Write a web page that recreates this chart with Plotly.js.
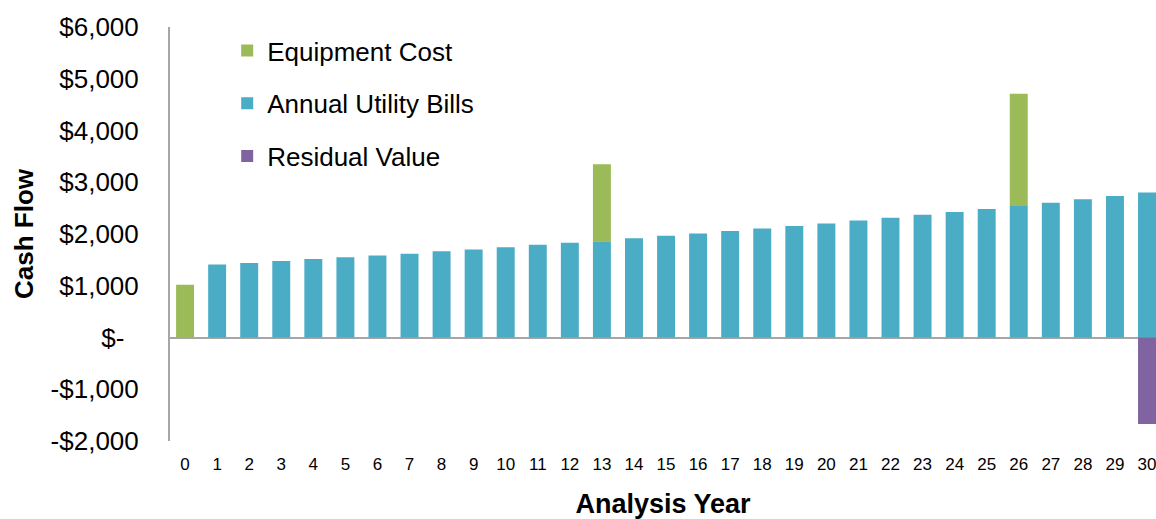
<!DOCTYPE html>
<html>
<head>
<meta charset="utf-8">
<script src="https://cdn.plot.ly/plotly-3.0.1.min.js"></script>
<style>html,body{margin:0;padding:0;background:#fff;}#chart{width:1156px;height:519px;}</style>
</head>
<body>
<div id="chart"></div>
<script>
const years = ["0","1","2","3","4","5","6","7","8","9","10","11","12","13","14","15","16","17","18","19","20","21","22","23","24","25","26","27","28","29","30"];
const utilityBills = [0,1410,1440,1480,1515,1550,1585,1620,1665,1700,1745,1790,1830,1860,1920,1965,2010,2060,2105,2155,2205,2260,2315,2370,2425,2485,2540,2605,2670,2735,2800];
const equipmentCost = [1020,0,0,0,0,0,0,0,0,0,0,0,0,1490,0,0,0,0,0,0,0,0,0,0,0,0,2170,0,0,0,0];
const residualValue = [0,0,0,0,0,0,0,0,0,0,0,0,0,0,0,0,0,0,0,0,0,0,0,0,0,0,0,0,0,0,-1670];
const yTickVals = [-2000,-1000,0,1000,2000,3000,4000,5000,6000];
const yTickText = ["-$2,000","-$1,000","$-\u00a0\u00a0","$1,000","$2,000","$3,000","$4,000","$5,000","$6,000"];

const FONT = 'Arial, "Liberation Sans", sans-serif';
const nz = a => a.map(v => v === 0 ? null : v);

const traces = [
  {type:'bar', name:'Annual Utility Bills', x:years, y:nz(utilityBills), marker:{color:'#4BACC6'}, legendgroup:'b', legendrank:2, hoverinfo:'x+y+name'},
  {type:'bar', name:'Equipment Cost', x:years, y:nz(equipmentCost), marker:{color:'#9BBB59'}, legendgroup:'a', legendrank:1, hoverinfo:'x+y+name'},
  {type:'bar', name:'Residual Value', x:years, y:nz(residualValue), marker:{color:'#8064A2'}, legendgroup:'c', legendrank:3, hoverinfo:'x+y+name'}
];

const layout = {
  width:1156, height:519,
  margin:{l:170, r:0, t:27, b:78},
  paper_bgcolor:'#fff', plot_bgcolor:'#fff',
  font:{family:FONT, color:'#000'},
  barmode:'relative',
  bargap:0.44,
  showlegend:true,
  legend:{x:0.058, y:1.0, xanchor:'left', yanchor:'top', font:{size:26, family:FONT}, traceorder:'grouped', tracegroupgap:16, bgcolor:'rgba(0,0,0,0)'},
  xaxis:{type:'category', range:[-0.47, 30.28], showgrid:false, showline:false, zeroline:false, ticks:'', tickfont:{size:17}, ticklabelstandoff:11,
    title:{text:'<b>Analysis Year</b>', font:{size:27}, standoff:22}},
  yaxis:{range:[-2000,6000], tickvals:yTickVals, ticktext:yTickText, showgrid:false, showline:true, linecolor:'#A6A6A6', linewidth:2,
    zeroline:true, zerolinecolor:'#A6A6A6', zerolinewidth:2, ticks:'', tickfont:{size:26}, ticklabelstandoff:24,
    title:{text:'<b>Cash Flow</b>', font:{size:26}, standoff:10}}
};

Plotly.newPlot('chart', traces, layout, {displayModeBar:false, staticPlot:true});
</script>
</body>
</html>
